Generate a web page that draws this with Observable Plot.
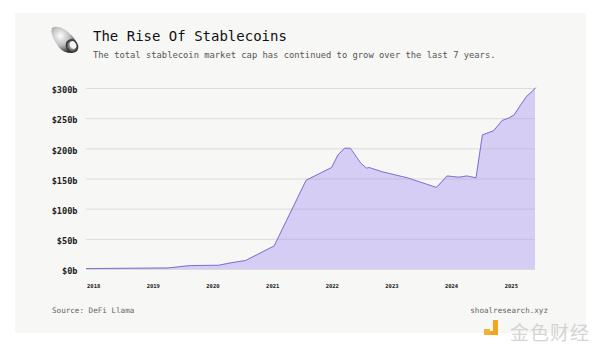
<!DOCTYPE html>
<html><head><meta charset="utf-8">
<script src="https://cdn.jsdelivr.net/npm/d3@7"></script>
<script src="https://cdn.jsdelivr.net/npm/@observablehq/plot@0.6"></script>
<style>
html,body{margin:0;padding:0;background:#fff;width:600px;height:351px;overflow:hidden;position:relative;font-family:"DejaVu Sans Mono",monospace;}
#card{position:absolute;left:15px;top:13px;width:571px;height:320px;background:#f7f7f5;}
#title{position:absolute;left:93px;top:28px;font-size:14px;color:#111;white-space:nowrap;}
#subtitle{position:absolute;left:93px;top:50px;font-size:8.8px;color:#555;white-space:nowrap;}
#source{position:absolute;left:52px;top:306px;font-size:7.6px;color:#666;}
#site{position:absolute;right:52px;top:306px;font-size:7.6px;color:#666;}
#chart{position:absolute;left:15px;top:80px;}
#wm{position:absolute;left:510px;top:318px;font-family:"Noto Sans CJK SC",sans-serif;font-size:19px;color:#d4d4d4;letter-spacing:1px;white-space:nowrap;}
#icon{position:absolute;left:48px;top:24px;}
#wmicon{position:absolute;left:484px;top:320px;}
</style></head>
<body>
<div id="card"></div>
<svg id="icon" width="34" height="32" viewBox="0 0 34 32">
  <defs>
    <radialGradient id="g1" cx="0.35" cy="0.35" r="0.75">
      <stop offset="0" stop-color="#fff"/><stop offset="0.5" stop-color="#bbb"/><stop offset="1" stop-color="#111"/>
    </radialGradient>
    <radialGradient id="g2" cx="0.5" cy="0.5" r="0.5">
      <stop offset="0" stop-color="#eee"/><stop offset="1" stop-color="#222"/>
    </radialGradient>
  </defs>
  <path d="M4 4 C9 1 16 4 22 10 C28 15 31 22 27 27 C22 31 14 28 10 22 C6 16 2 9 4 4 Z" fill="url(#g1)"/>
  <ellipse cx="24" cy="22" rx="6" ry="7" fill="url(#g2)" transform="rotate(-30 24 22)"/>
  <ellipse cx="25" cy="21" rx="3" ry="4" fill="#f5f5f5" transform="rotate(-30 25 21)"/>
</svg>
<div id="title">The Rise Of Stablecoins</div>
<div id="subtitle">The total stablecoin market cap has continued to grow over the last 7 years.</div>
<div id="chart"></div>
<div id="source">Source: DeFi Llama</div>
<div id="site">shoalresearch.xyz</div>
<svg id="wmicon" width="20" height="18"><rect x="0" y="9" width="6" height="6" fill="#f2b233"/><path d="M9 0 H14 V15 H6 V11 H9 Z" fill="#f2a61c"/></svg>
<div id="wm">金色财经</div>
<script>
const dates = ["2017-11-18","2019-04-01","2019-08-15","2020-02-05","2020-04-20","2020-07-20","2021-01-10","2021-07-25","2021-12-28","2022-02-05","2022-03-18","2022-04-22","2022-06-25","2022-07-30","2022-08-15","2022-11-02","2023-04-05","2023-10-01","2023-12-05","2024-02-15","2024-04-05","2024-05-30","2024-07-08","2024-09-15","2024-11-06","2024-12-16","2025-01-18","2025-02-28","2025-04-05","2025-05-08","2025-05-29"];
const marketCap = [1.5,2.5,6.5,7,11,15,39,148,169,190,201,201,176,168,169,162,152,136,155,153,155,152,223,230,247,251,256,273,287,295,301];
const yTicks = [0,50,100,150,200,250,300];
const xTickYears = [2018,2019,2020,2021,2022,2023,2024,2025];

const parse = d3.utcParse("%Y-%m-%d");
const data = dates.map((d,i)=>({date:parse(d), value:marketCap[i]}));
const xTicks = xTickYears.map(y=>new Date(Date.UTC(y,0,1)));
const x0 = parse("2017-11-18"), x1 = parse("2025-05-29");

const chart = Plot.plot({
  width:571, height:215,
  marginLeft:71, marginRight:51, marginTop:8, marginBottom:26,
  style:{background:"transparent", fontFamily:"DejaVu Sans Mono, monospace"},
  x:{type:"utc", domain:[x0, x1], label:null},
  y:{domain:[0,300], label:null},
  marks:[
    Plot.areaY(data,{x:"date", y:"value", fill:"#d6cdf4"}),
    Plot.ruleY(yTicks,{x1:x0, x2:x1, stroke:"#9a9a9a", strokeOpacity:0.3}),
    Plot.lineY(data,{x:"date", y:"value", stroke:"#8570d2", strokeWidth:1}),
    Plot.axisY({ticks:yTicks, tickFormat:d=>"$"+d+"b", tickSize:0, tickPadding:9, dy:2, fontSize:8.6, fontWeight:"bold", fill:"#222", label:null}),
    Plot.axisX({ticks:xTicks, tickFormat:d3.utcFormat("%Y"), tickSize:0, tickPadding:15, fontSize:5.5, fontWeight:"bold", fill:"#222", label:null})
  ]
});
document.getElementById("chart").appendChild(chart);
</script>
</body></html>
